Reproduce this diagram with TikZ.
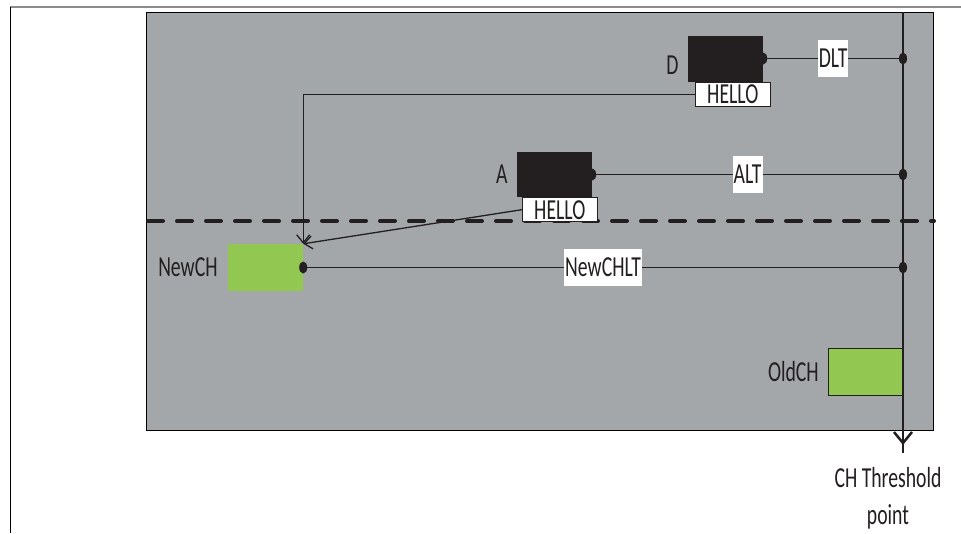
\documentclass[tikz,border=0pt]{standalone}
\usepackage{fontspec}
\setmainfont{Carlito}[FakeStretch=0.68]
\usetikzlibrary{positioning,arrows.meta,shapes.geometric}
\definecolor{panelgray}{HTML}{A4A7AA}
\definecolor{chgreen}{HTML}{92C852}
\definecolor{nodeblack}{HTML}{231F20}
\tikzset{
  lbl/.style     ={font=\fontsize{29}{37}\selectfont, text=nodeblack, inner sep=1pt},
  darkbox/.style ={fill=nodeblack, minimum width=75pt, minimum height=46pt, inner sep=0pt},
  chbox/.style   ={fill=chgreen, minimum width=75pt, minimum height=47pt, inner sep=0pt},
  hellobox/.style={lbl, draw=nodeblack, fill=white, line width=1pt, minimum width=75pt,
                   minimum height=24pt, inner sep=0pt, anchor=north west},
  ltlabel/.style ={lbl, fill=white, minimum height=37pt, inner xsep=1pt},
  dot/.style     ={ellipse, fill=nodeblack, minimum width=8pt, minimum height=12pt, inner sep=0pt},
  link/.style    ={line width=1.5pt, draw=nodeblack},
  helloarr/.style={line width=1.3pt, draw=nodeblack, -{Straight Barb[length=8pt,width=13pt]}},
  thline/.style  ={line width=2.5pt, draw=nodeblack},
}

\begin{document}
\begin{tikzpicture}[x=1pt,y=-1pt]
  \useasboundingbox (0,0) rectangle (961,533);
  % frame and area
  \draw[black!45, line width=2pt] (10,7) -- (961,7);
  \draw[line width=1pt] (10,7) -- (10,533);
  \draw[fill=panelgray, line width=1pt] (146,12) rectangle (933,430);
  \draw[nodeblack, line width=4pt, line cap=round, dash pattern=on 15pt off 14pt] (148,221) -- (934,221);

  % nodes
  \node[darkbox] (D) at (725.5,58.5) {};
  \node[hellobox] (Dhello) at ([xshift=7pt]D.south west) {HELLO};
  \node[darkbox, minimum height=45pt] (A) at (554.5,174.5) {};
  \node[hellobox] (Ahello) at ([xshift=5pt]A.south west) {HELLO};
  \node[chbox] (NewCH) at (265.5,267.5) {};
  \node[chbox, draw=nodeblack, line width=1pt] (OldCH) at (866,371.5) {};

  \node[lbl, anchor=east] (Dlbl) at ([xshift=-8pt,yshift=-7pt]D.west) {D};
  \node[lbl, left=8pt of A] (Albl) {A};
  \node[lbl, left=9pt of NewCH] (NewCHlbl) {NewCH};
  \node[lbl, left=8pt of OldCH] (OldCHlbl) {OldCH};

  % threshold line
  \coordinate (thTop) at (903,12);
  \coordinate (thBot) at (903,453);
  \coordinate (thTip) at (903,445);
  \coordinate (thD) at (903,58.5);
  \coordinate (thA) at (903,174.5);
  \coordinate (thN) at (903,267.5);
  \draw[thline] (thTop) -- (thBot);
  \draw[thline, -{Straight Barb[length=11pt,width=18pt]}] (thTop) -- (thTip);
  \node[lbl, align=center, anchor=north] (thLabel) at (888,466) {CH Threshold\\point};

  % links
  \draw[link] (D.east) -- node[ltlabel] (DLT) {DLT} (thD);
  \draw[link] (A.east) -- node[ltlabel] (ALT) {ALT} (thA);
  \draw[link] (NewCH.east) -- node[ltlabel] (NewCHLT) {NewCHLT} (thN);
  \draw[helloarr] (Dhello.west) -| (NewCH.north east);
  \draw[helloarr] (Ahello.west) -- (NewCH.north east);

  % dots
  \node[dot] (dD) at (D.east) {};
  \node[dot] (dA) at (A.east) {};
  \node[dot] (dN) at (NewCH.east) {};
  \node[dot] (tD) at (thD) {};
  \node[dot] (tA) at (thA) {};
  \node[dot] (tN) at (thN) {};
\end{tikzpicture}
\end{document}
